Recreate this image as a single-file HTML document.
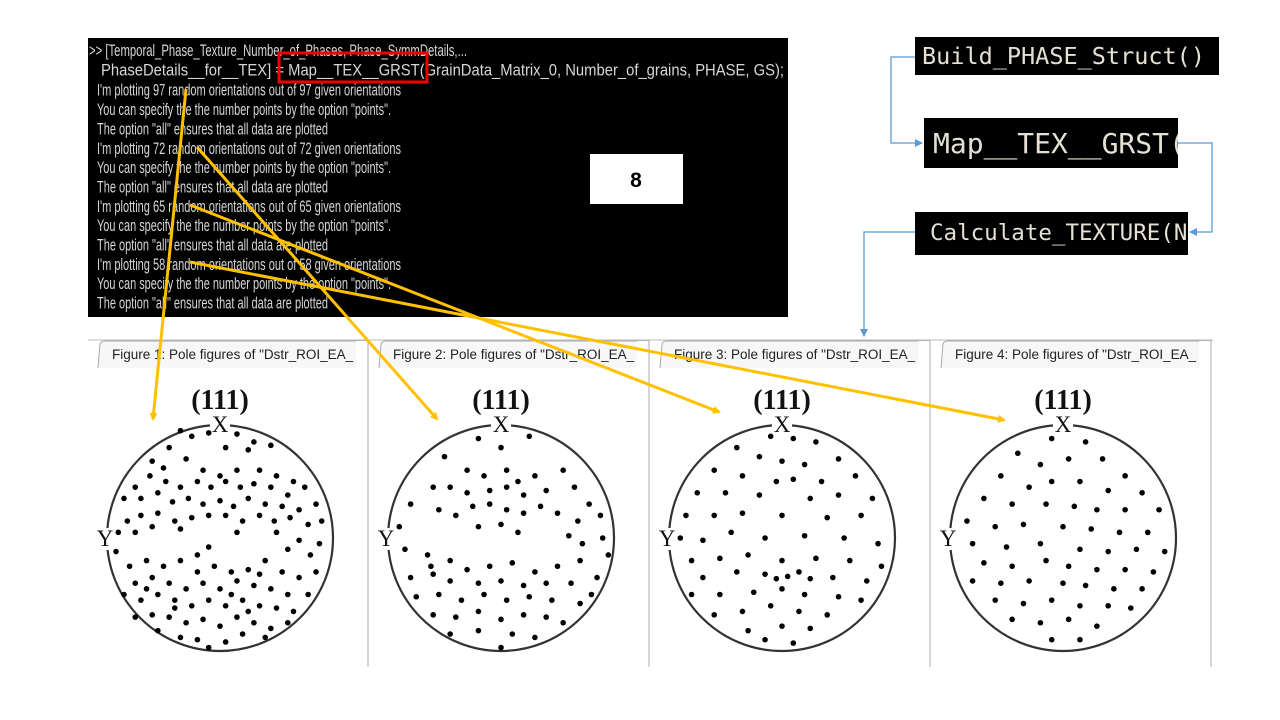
<!DOCTYPE html>
<html><head><meta charset="utf-8"><style>
html,body{margin:0;padding:0;background:#fff;width:1280px;height:720px;overflow:hidden}
svg{display:block}
.term{font-family:"Liberation Sans",sans-serif;font-size:17px;fill:#d6d6d6}
.mono{font-family:"DejaVu Sans Mono","Liberation Mono",monospace;fill:#e4e0d4}
.tab{font-family:"Liberation Sans",sans-serif;font-size:13.5px;fill:#222}
.serif{font-family:"Liberation Serif",serif;fill:#111}
</style></head><body>
<svg id="s" width="1280" height="720" viewBox="0 0 1280 720" xmlns="http://www.w3.org/2000/svg">
<defs>
<marker id="ay" markerWidth="8" markerHeight="8" refX="6" refY="4" orient="auto" markerUnits="userSpaceOnUse"><path d="M0,0 L8,4 L0,8 z" fill="#FFC000"/></marker>
<marker id="ab" markerWidth="8" markerHeight="8" refX="7" refY="4" orient="auto" markerUnits="userSpaceOnUse"><path d="M0,0 L8,4 L0,8 z" fill="#5b9bd5"/></marker>
<clipPath id="c1"><rect x="915" y="37" width="304" height="38"/></clipPath>
<clipPath id="c2"><rect x="924" y="118" width="254" height="50"/></clipPath>
<clipPath id="c3"><rect x="915" y="212" width="273" height="43"/></clipPath>
</defs>

<g>
<rect x="88" y="38" width="700" height="279" fill="#000"/>
<text class="term" x="89" y="56" textLength="378" lengthAdjust="spacingAndGlyphs">&gt;&gt; [Temporal_Phase_Texture_Number_of_Phases, Phase_SymmDetails,...</text>
<text class="term" x="101" y="75.5" textLength="683" lengthAdjust="spacingAndGlyphs">PhaseDetails__for__TEX] = Map__TEX__GRST(GrainData_Matrix_0, Number_of_grains, PHASE, GS);</text>
<g id="tlines"></g>
<rect x="279" y="53" width="148" height="29" fill="none" stroke="#e00" stroke-width="3"/>
<rect x="590" y="154" width="93" height="50" fill="#fff"/>
<text x="636" y="187" text-anchor="middle" font-family="Liberation Sans,sans-serif" font-weight="bold" font-size="21" fill="#000">8</text>
</g>

<g>
<rect x="915" y="37" width="304" height="38" fill="#000"/>
<text class="mono" x="922" y="64" font-size="23.5" clip-path="url(#c1)">Build_PHASE_Struct()</text>
<rect x="924" y="118" width="254" height="50" fill="#000"/>
<text class="mono" x="933" y="153" font-size="28" clip-path="url(#c2)">Map__TEX__GRST(</text>
<rect x="915" y="212" width="273" height="43" fill="#000"/>
<text class="mono" x="930" y="240" font-size="22.5" clip-path="url(#c3)">Calculate_TEXTURE(N</text>
<polyline points="915,57 891,57 891,143 922,143" fill="none" stroke="#5b9bd5" stroke-width="1.3" marker-end="url(#ab)"/>
<polyline points="1178,143 1212,143 1212,232 1190,232" fill="none" stroke="#5b9bd5" stroke-width="1.3" marker-end="url(#ab)"/>
<polyline points="915,232 864,232 864,336" fill="none" stroke="#5b9bd5" stroke-width="1.3" marker-end="url(#ab)"/>
</g>

<g id="figs"></g>

<g stroke="#FFC000" stroke-width="3" fill="none">
<line x1="186" y1="89" x2="153" y2="419" marker-end="url(#ay)"/>
<line x1="197" y1="147" x2="437" y2="419" marker-end="url(#ay)"/>
<line x1="190" y1="205" x2="719" y2="412" marker-end="url(#ay)"/>
<line x1="190" y1="262" x2="1004" y2="420" marker-end="url(#ay)"/>
</g>
</svg>
<script>
const NS="http://www.w3.org/2000/svg";
const counts=[97,72,65,58];
const figNames=["Figure 1","Figure 2","Figure 3","Figure 4"];
const pts1=[[-0.35,-0.95],[-0.25,-0.9],[-0.1,-0.93],[0.15,-0.92],[0.3,-0.85],[0.45,-0.82],[0.25,-0.78],[0.05,-0.8],[-0.45,-0.8],[-0.6,-0.68],[-0.5,-0.62],[-0.3,-0.7],[-0.15,-0.6],[0.0,-0.55],[0.15,-0.6],[0.35,-0.6],[0.5,-0.55],[0.65,-0.5],[0.75,-0.45],[0.6,-0.38],[0.45,-0.45],[0.3,-0.48],[0.18,-0.45],[0.05,-0.5],[-0.08,-0.45],[-0.2,-0.5],[-0.35,-0.45],[-0.48,-0.5],[-0.62,-0.55],[-0.75,-0.45],[-0.85,-0.35],[-0.7,-0.35],[-0.55,-0.4],[-0.42,-0.32],[-0.28,-0.35],[-0.15,-0.3],[0.0,-0.33],[0.12,-0.28],[0.25,-0.35],[0.4,-0.3],[0.55,-0.28],[0.7,-0.25],[0.85,-0.3],[0.9,-0.15],[0.78,-0.12],[0.62,-0.18],[0.48,-0.15],[0.35,-0.2],[0.2,-0.15],[0.05,-0.2],[-0.1,-0.2],[-0.25,-0.18],[-0.4,-0.15],[-0.55,-0.22],[-0.7,-0.2],[-0.82,-0.15],[-0.9,-0.05],[-0.75,-0.05],[-0.6,-0.1],[-0.35,-0.08],[0.15,-0.05],[0.5,-0.05],[0.7,0.02],[0.88,0.05],[-0.1,0.08],[0.6,0.1],[0.8,0.15],[-0.92,0.12],[-0.8,0.25],[-0.65,0.2],[-0.5,0.25],[-0.35,0.2],[-0.2,0.3],[-0.05,0.25],[0.1,0.3],[0.25,0.28],[0.4,0.2],[0.55,0.3],[0.7,0.35],[0.85,0.3],[-0.75,0.4],[-0.6,0.35],[-0.45,0.4],[-0.3,0.45],[-0.15,0.4],[0.0,0.45],[0.15,0.38],[0.3,0.42],[0.45,0.45],[0.6,0.5],[0.78,0.5],[-0.85,0.5],[-0.7,0.55],[-0.55,0.5],[-0.4,0.55],[-0.25,0.6],[-0.1,0.55],[0.05,0.6],[0.2,0.55],[0.35,0.6],[0.5,0.62],[0.65,0.65],[-0.75,0.7],[-0.6,0.68],[-0.45,0.7],[-0.3,0.75],[-0.15,0.72],[0.0,0.78],[0.15,0.7],[0.3,0.75],[0.45,0.8],[0.6,0.75],[-0.55,0.82],[-0.35,0.88],[-0.2,0.9],[0.05,0.92],[0.2,0.85],[0.4,0.88],[-0.1,0.97],[-0.4,0.62],[0.1,0.5],[-0.65,0.45],[0.35,0.32],[-0.2,0.15],[0.25,0.65]];
const pts2=[[-0.2,-0.88],[0.0,-0.8],[0.25,-0.9],[-0.5,-0.72],[-0.3,-0.6],[-0.15,-0.55],[0.05,-0.6],[0.15,-0.5],[0.3,-0.55],[0.55,-0.6],[-0.6,-0.45],[-0.45,-0.45],[-0.3,-0.4],[-0.1,-0.42],[0.05,-0.45],[0.2,-0.38],[0.4,-0.42],[0.65,-0.45],[0.78,-0.3],[-0.8,-0.3],[-0.55,-0.25],[-0.4,-0.2],[-0.25,-0.28],[-0.1,-0.3],[0.05,-0.25],[0.2,-0.22],[0.35,-0.28],[0.5,-0.22],[0.68,-0.15],[0.88,-0.2],[-0.9,-0.1],[-0.2,-0.1],[0.0,-0.12],[0.15,-0.05],[0.6,-0.02],[0.72,0.05],[0.9,0.0],[0.95,0.15],[-0.85,0.1],[-0.65,0.15],[-0.45,0.2],[-0.3,0.28],[-0.1,0.25],[0.1,0.22],[0.3,0.3],[0.5,0.25],[0.7,0.2],[0.85,0.35],[-0.8,0.35],[-0.6,0.32],[-0.45,0.38],[-0.2,0.4],[0.0,0.38],[0.2,0.42],[0.4,0.4],[0.62,0.4],[-0.75,0.52],[-0.55,0.5],[-0.35,0.55],[-0.15,0.5],[0.05,0.55],[0.25,0.52],[0.45,0.55],[0.7,0.58],[-0.6,0.68],[-0.4,0.7],[-0.2,0.65],[0.0,0.72],[0.2,0.68],[0.4,0.7],[0.55,0.75],[-0.45,0.85],[-0.2,0.82],[0.1,0.85],[0.3,0.88],[0.0,0.97],[-0.62,0.25],[0.8,0.5]];
const pts3=[[-0.1,-0.9],[0.1,-0.88],[0.3,-0.85],[-0.4,-0.8],[0.5,-0.7],[-0.2,-0.72],[0.0,-0.68],[0.2,-0.65],[-0.6,-0.6],[0.65,-0.55],[-0.35,-0.55],[-0.05,-0.5],[0.1,-0.52],[0.35,-0.5],[-0.75,-0.4],[-0.5,-0.4],[-0.2,-0.38],[0.25,-0.35],[0.5,-0.38],[0.8,-0.35],[-0.85,-0.2],[-0.6,-0.2],[-0.35,-0.22],[0.0,-0.2],[0.4,-0.18],[0.7,-0.2],[-0.9,0.0],[-0.7,0.02],[-0.45,-0.05],[-0.15,0.0],[0.2,-0.02],[0.55,0.0],[0.85,0.05],[-0.8,0.2],[-0.55,0.18],[-0.3,0.15],[0.0,0.2],[0.3,0.18],[0.6,0.2],[0.88,0.25],[-0.7,0.35],[-0.4,0.3],[-0.15,0.32],[-0.05,0.36],[0.05,0.34],[0.15,0.3],[0.25,0.36],[0.45,0.35],[0.75,0.38],[-0.8,0.5],[-0.55,0.5],[-0.25,0.48],[0.0,0.45],[0.2,0.5],[0.5,0.52],[0.7,0.55],[-0.6,0.68],[-0.35,0.65],[-0.1,0.6],[0.15,0.65],[0.4,0.68],[-0.3,0.82],[0.0,0.78],[0.25,0.8],[0.1,0.93],[-0.15,0.9]];
const pts4=[[-0.1,-0.88],[0.2,-0.85],[-0.4,-0.75],[-0.2,-0.65],[0.05,-0.7],[0.35,-0.7],[0.55,-0.55],[-0.55,-0.55],[-0.3,-0.45],[-0.1,-0.5],[0.15,-0.5],[0.4,-0.42],[0.7,-0.4],[-0.7,-0.35],[-0.45,-0.3],[-0.15,-0.3],[0.1,-0.28],[0.3,-0.25],[0.55,-0.25],[0.85,-0.25],[-0.85,-0.15],[-0.6,-0.1],[-0.35,-0.12],[0.0,-0.1],[0.25,-0.08],[0.5,-0.05],[0.75,-0.05],[-0.8,0.05],[-0.5,0.08],[-0.2,0.05],[0.15,0.1],[0.4,0.12],[0.65,0.1],[0.9,0.12],[-0.7,0.22],[-0.45,0.25],[-0.15,0.2],[0.05,0.25],[0.3,0.28],[0.55,0.28],[0.8,0.3],[-0.8,0.38],[-0.55,0.4],[-0.3,0.38],[0.0,0.4],[0.2,0.42],[0.45,0.45],[0.7,0.45],[-0.6,0.55],[-0.35,0.58],[-0.1,0.55],[0.15,0.6],[0.4,0.6],[0.6,0.62],[-0.45,0.72],[-0.2,0.75],[0.05,0.72],[0.3,0.78],[-0.1,0.9],[0.15,0.9]];
const allPts=[pts1,pts2,pts3,pts4];

function mk(tag,attrs,parent){const e=document.createElementNS(NS,tag);for(const k in attrs)e.setAttribute(k,attrs[k]);parent.appendChild(e);return e;}

const tl=document.getElementById('tlines');
counts.forEach((n,i)=>{
  const lines=["I'm plotting "+n+" random orientations out of "+n+" given orientations",
    'You can specify the the number points by the option "points".',
    'The option "all" ensures that all data are plotted'];
  const lens=[304,294,231];
  lines.forEach((t,j)=>{
    const idx=2+i*3+j;
    const el=mk('text',{class:'term',x:97,y:57+idx*19.35,textLength:lens[j],lengthAdjust:'spacingAndGlyphs'},tl);
    
    
    el.textContent=t;
  });
});

const figs=document.getElementById('figs');
const R=113, CY=538;
mk('line',{x1:88,y1:340,x2:1213,y2:340,stroke:'#bbb','stroke-width':1},figs);
allPts.forEach((pts,i)=>{
  const px=88+i*281, cx=220+i*281;
  const g=mk('g',{},figs);
  
  
  const tab=mk('path',{d:`M${px+10},368 L${px+12},344 Q${px+13},341 ${px+17},341 L${px+280},341 L${px+280},368`,fill:'#f7f7f7',stroke:'#aaa','stroke-width':1},g);
  
  
  const tt=mk('text',{class:'tab',x:px+24,y:359},g);
  
  
  tt.textContent=figNames[i]+': Pole figures of "Dstr_ROI_EA_';
  mk('rect',{x:px+268,y:341,width:13,height:27,fill:'#fff'},g);
  mk('line',{x1:px+280,y1:341,x2:px+280,y2:667,stroke:'#c8c8c8','stroke-width':1.5},g);
  const ti=mk('text',{class:'serif',x:cx,y:409,'text-anchor':'middle','font-size':28,'font-weight':'bold'},g);
  
  
  ti.textContent='(111)';
  const c=mk('circle',{cx:cx,cy:CY,r:R,fill:'none',stroke:'#333','stroke-width':2.2},g);
  
  
  mk('rect',{x:cx-10,y:CY-R-14,width:20,height:20,fill:'#fff'},g);
  mk('rect',{x:cx-R-12,y:CY-10,width:20,height:22,fill:'#fff'},g);
  const xl=mk('text',{class:'serif',x:cx,y:CY-R+7,'text-anchor':'middle','font-size':23},g);
  
  
  xl.textContent='X';
  const yl=mk('text',{class:'serif',x:cx-R-2,y:CY+8,'text-anchor':'middle','font-size':23},g);
  
  
  yl.textContent='Y';
  pts.forEach(p=>{
    const d=mk('circle',{cx:cx+p[0]*R,cy:CY+p[1]*R,r:2.8,fill:'#000'},g);
    
    
  });
});
</script>
</body></html>
